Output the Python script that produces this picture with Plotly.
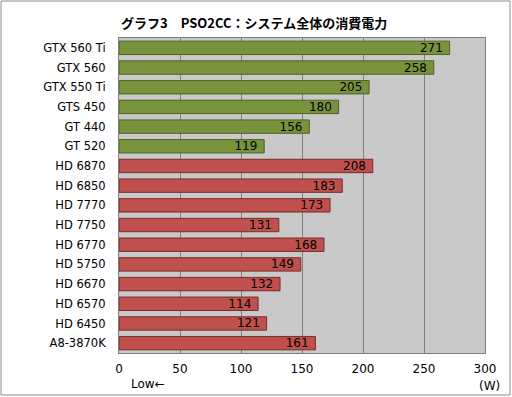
import plotly.graph_objects as go

categories = ["GTX 560 Ti", "GTX 560", "GTX 550 Ti", "GTS 450", "GT 440", "GT 520",
              "HD 6870", "HD 6850", "HD 7770", "HD 7750", "HD 6770", "HD 5750",
              "HD 6670", "HD 6570", "HD 6450", "A8-3870K"]
values = [271, 258, 205, 180, 156, 119, 208, 183, 173, 131, 168, 149, 132, 114, 121, 161]
vendor = ["nv"] * 6 + ["amd"] * 10
x_ticks = [0, 50, 100, 150, 200, 250, 300]
title_text = "グラフ3　PSO2CC：システム全体の消費電力"

fill = {"nv": "#77933c", "amd": "#c0504d"}
edge = {"nv": "#4f6228", "amd": "#772c2a"}

W, H = 512, 397
L, R, T, B = 119, 485, 38, 353

fig = go.Figure(go.Bar(
    x=values, y=categories, orientation="h",
    marker=dict(color=[fill[v] for v in vendor],
                line=dict(color=[edge[v] for v in vendor], width=1)),
    text=[str(v) + " " for v in values], textposition="inside", insidetextanchor="end",
    constraintext="none",
    textfont=dict(color="black", size=12, family="DejaVu Sans"),
    cliponaxis=False, width=0.68,
))

pw, ph = R - L, B - T
def px(x):
    return (x - L) / pw
def py(y):
    return (B - y) / ph

fig.update_layout(
    width=W, height=H,
    margin=dict(l=L, r=W - R, t=T, b=H - B, autoexpand=False),
    paper_bgcolor="white", plot_bgcolor="#c9c9c9",
    showlegend=False,
    font=dict(family="DejaVu Sans", size=11, color="black"),
    xaxis=dict(range=[0, 300], tickvals=x_ticks, showgrid=True, gridcolor="#7f7f7f",
               gridwidth=1, zeroline=False, showline=True, linecolor="#7f7f7f",
               mirror=True, ticks="", tickfont=dict(size=12), automargin=False,
               ticklabelstandoff=5),
    yaxis=dict(autorange="reversed", showgrid=False, showline=True, linecolor="#7f7f7f",
               mirror=True, ticks="", ticklabelstandoff=10, tickfont=dict(size=11.5),
               automargin=False),
    shapes=[dict(type="rect", xref="paper", yref="paper",
                 x0=px(1), x1=px(510), y0=py(1), y1=py(395),
                 line=dict(color="#8c8c8c", width=1), fillcolor="rgba(0,0,0,0)",
                 layer="below")],
    annotations=[
        dict(text=title_text, xref="paper", yref="paper", x=px(254), y=py(23),
             showarrow=False, xanchor="center", yanchor="middle",
             font=dict(family="Noto Sans CJK JP", size=13, color="black", weight="bold")),
        dict(text="Low←", xref="paper", yref="paper", x=px(148), y=py(384),
             showarrow=False, xanchor="center", yanchor="middle", font=dict(size=12)),
        dict(text="(W)", xref="paper", yref="paper", x=px(489), y=py(386),
             showarrow=False, xanchor="center", yanchor="middle", font=dict(size=12)),
    ],
)

fig.write_html("out.html", config={"displayModeBar": False},
               post_script="document.body.style.margin='0';document.body.style.padding='0';")
